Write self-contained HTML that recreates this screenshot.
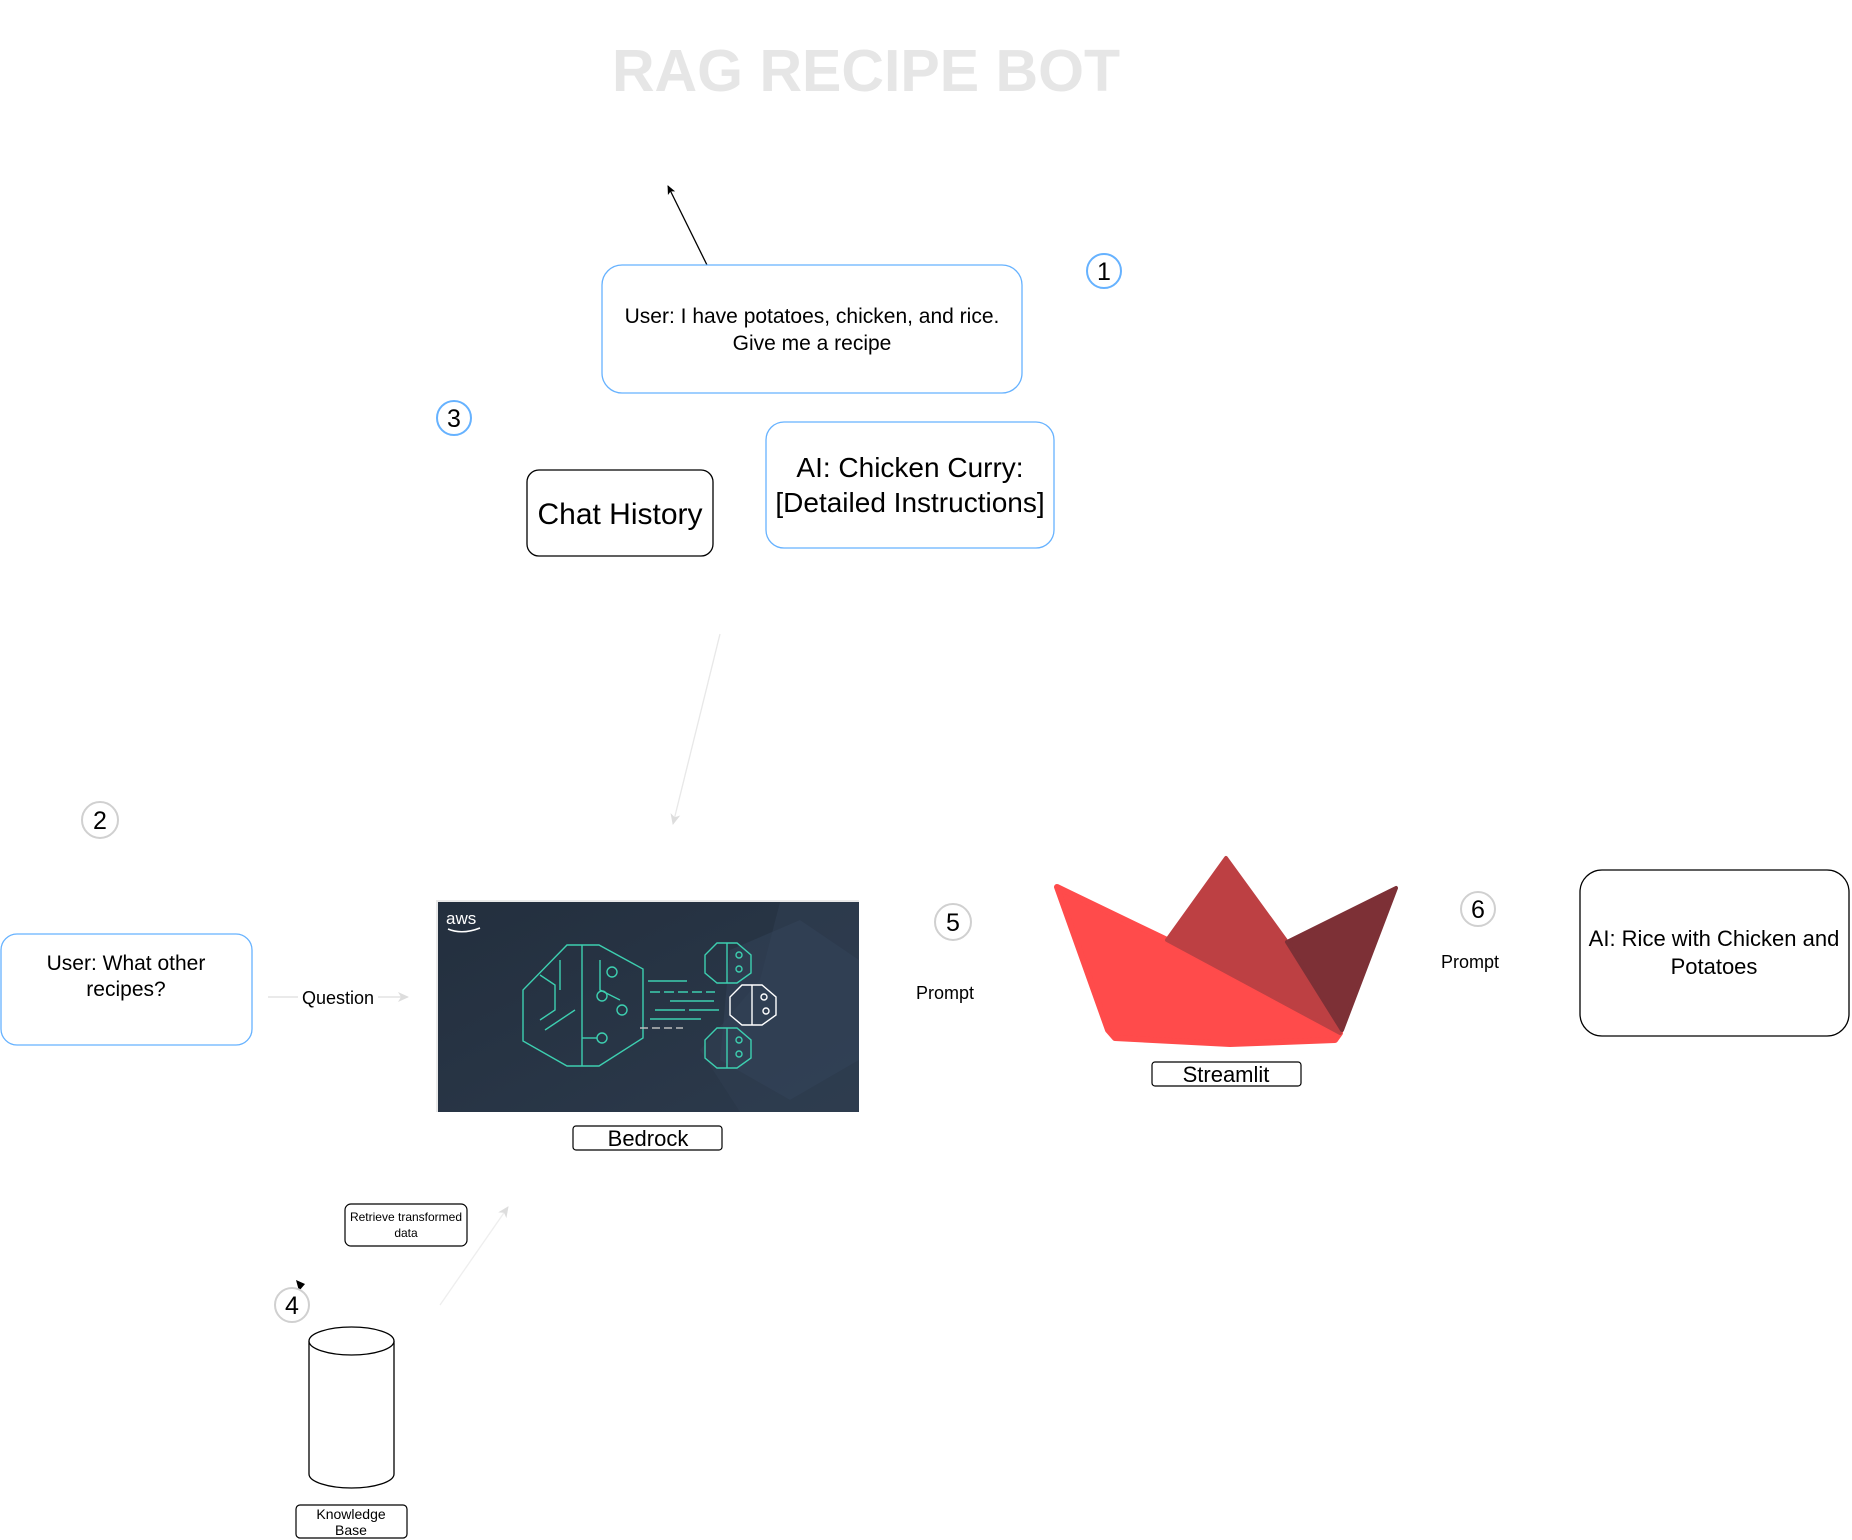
<!DOCTYPE html>
<html><head><meta charset="utf-8"><style>
html,body{margin:0;padding:0;background:#fff}
svg{display:block}
text{font-family:"Liberation Sans",Arial,sans-serif}
</style></head><body>
<svg width="1852" height="1540" viewBox="0 0 1852 1540" xmlns="http://www.w3.org/2000/svg">
<defs>
<marker id="ab" markerWidth="10" markerHeight="10" refX="8" refY="5" orient="auto" markerUnits="userSpaceOnUse"><path d="M0,1 L9,5 L0,9 L2,5 Z" fill="#000"/></marker>
<marker id="ag" markerWidth="12" markerHeight="12" refX="10" refY="6" orient="auto" markerUnits="userSpaceOnUse"><path d="M0,1 L11,6 L0,11 L3,6 Z" fill="#ddd"/></marker>
<linearGradient id="bg" x1="0" y1="0" x2="1" y2="1"><stop offset="0" stop-color="#232f3e"/><stop offset="1" stop-color="#2c3a4c"/></linearGradient>
</defs>
<rect width="1852" height="1540" fill="#fff"/>
<text x="866" y="91" text-anchor="middle" font-size="59" font-weight="bold" fill="#e6e6e6">RAG RECIPE BOT</text>

<line x1="707" y1="265" x2="668" y2="186" stroke="#000" stroke-width="1.3" marker-end="url(#ab)"/>

<rect x="602" y="265" width="420" height="128" rx="20" fill="#fff" stroke="#66b2ff" stroke-width="1.3"/>
<text x="812" y="323" text-anchor="middle" font-size="21">User: I have potatoes, chicken, and rice.</text>
<text x="812" y="350" text-anchor="middle" font-size="21">Give me a recipe</text>

<circle cx="1104" cy="271" r="17" fill="#fff" stroke="#66b2ff" stroke-width="2"/>
<text x="1104" y="280" text-anchor="middle" font-size="25">1</text>

<circle cx="454" cy="418" r="17" fill="#fff" stroke="#66b2ff" stroke-width="2"/>
<text x="454" y="427" text-anchor="middle" font-size="25">3</text>

<rect x="527" y="470" width="186" height="86" rx="12" fill="#fff" stroke="#000" stroke-width="1.3"/>
<text x="620" y="524" text-anchor="middle" font-size="30">Chat History</text>

<rect x="766" y="422" width="288" height="126" rx="18" fill="#fff" stroke="#66b2ff" stroke-width="1.3"/>
<text x="910" y="477" text-anchor="middle" font-size="28">AI: Chicken Curry:</text>
<text x="910" y="512" text-anchor="middle" font-size="28">[Detailed Instructions]</text>

<line x1="720" y1="634" x2="673" y2="824" stroke="#e8e8e8" stroke-width="1.3" marker-end="url(#ag)"/>

<circle cx="100" cy="820" r="18" fill="#fff" stroke="#d0d0d0" stroke-width="2"/>
<text x="100" y="829" text-anchor="middle" font-size="25">2</text>

<rect x="1" y="934" width="251" height="111" rx="16" fill="#fff" stroke="#66b2ff" stroke-width="1.3"/>
<text x="126" y="970" text-anchor="middle" font-size="21">User: What other</text>
<text x="126" y="996" text-anchor="middle" font-size="21">recipes?</text>

<line x1="268" y1="997" x2="408" y2="997" stroke="#ddd" stroke-width="1.3" marker-end="url(#ag)"/>
<rect x="298" y="985" width="80" height="24" fill="#fff"/>
<text x="338" y="1004" text-anchor="middle" font-size="18">Question</text>

<rect x="436" y="900" width="423" height="212" fill="#e9e9e9"/>
<rect x="438" y="902" width="421" height="210" fill="url(#bg)"/>
<polygon points="780,902 859,902 859,1112 740,1112 700,1050 760,980" fill="#2f3d50" opacity="0.7"/>
<polygon points="730,950 800,920 859,960 859,1060 790,1100 720,1060" fill="#34445a" opacity="0.5"/>
<text x="446" y="924" font-size="17" fill="#fff">aws</text>
<path d="M448,929 Q462,935 480,928" stroke="#fff" stroke-width="1.5" fill="none"/>
<g stroke="#3dcfb0" stroke-width="1.4" fill="none">
<polygon points="567,945 599,945 643,969 643,1038 599,1066 567,1066 523,1041 523,990"/>
<line x1="582" y1="945" x2="582" y2="1066"/>
<path d="M540,975 L555,985 L555,1010 L540,1020"/>
<path d="M560,960 L560,990"/><path d="M600,960 L600,990 L620,1000"/>
<circle cx="612" cy="972" r="5"/><circle cx="602" cy="996" r="5"/><circle cx="622" cy="1010" r="5"/><circle cx="602" cy="1038" r="5"/>
<path d="M545,1030 L575,1010"/><path d="M582,1038 L597,1038"/>
<g transform="translate(709,943)"><polygon points="8,0 28,0 42,12 42,30 28,40 8,40 -4,30 -4,12"/><line x1="18" y1="0" x2="18" y2="40"/><circle cx="30" cy="12" r="3"/><circle cx="30" cy="26" r="3"/></g>
<g transform="translate(709,1028)"><polygon points="8,0 28,0 42,12 42,30 28,40 8,40 -4,30 -4,12"/><line x1="18" y1="0" x2="18" y2="40"/><circle cx="30" cy="12" r="3"/><circle cx="30" cy="26" r="3"/></g>
<line x1="648" y1="981" x2="687" y2="981"/>
<line x1="650" y1="992" x2="715" y2="992" stroke-dasharray="10 4"/>
<line x1="670" y1="1001" x2="714" y2="1001"/>
<line x1="655" y1="1010" x2="720" y2="1010" stroke-dasharray="30 4"/>
<line x1="650" y1="1019" x2="701" y2="1019"/>
</g>
<g stroke="#fff" stroke-width="1.4" fill="none" transform="translate(734,985)"><polygon points="8,0 28,0 42,12 42,30 28,40 8,40 -4,30 -4,12"/><line x1="18" y1="0" x2="18" y2="40"/><circle cx="30" cy="12" r="3"/><circle cx="32" cy="26" r="3"/></g>
<line x1="640" y1="1028" x2="683" y2="1028" stroke="#bbb" stroke-width="1.4" stroke-dasharray="8 4"/>

<rect x="573" y="1126" width="149" height="24" rx="3" fill="#fff" stroke="#000" stroke-width="1.2"/>
<text x="648" y="1146" text-anchor="middle" font-size="22">Bedrock</text>

<circle cx="953" cy="922" r="18" fill="#fff" stroke="#d0d0d0" stroke-width="2"/>
<text x="953" y="931" text-anchor="middle" font-size="25">5</text>
<text x="945" y="999" text-anchor="middle" font-size="18">Prompt</text>

<g stroke-linejoin="round">
<polygon points="1057,887 1167,940 1340,1033 1335,1040 1230,1044 1115,1038 1108,1030" fill="#ff4b4b" stroke="#ff4b4b" stroke-width="6"/>
<polygon points="1167,940 1226,858 1287,942 1340,1033" fill="#bd4043" stroke="#bd4043" stroke-width="4"/>
<polygon points="1287,942 1396,888 1342,1030" fill="#7d3036" stroke="#7d3036" stroke-width="4"/>
</g>
<rect x="1152" y="1062" width="149" height="24" rx="3" fill="#fff" stroke="#000" stroke-width="1.2"/>
<text x="1226" y="1082" text-anchor="middle" font-size="22">Streamlit</text>

<circle cx="1478" cy="909" r="17" fill="#fff" stroke="#d0d0d0" stroke-width="2"/>
<text x="1478" y="918" text-anchor="middle" font-size="25">6</text>
<text x="1470" y="968" text-anchor="middle" font-size="18">Prompt</text>

<rect x="1580" y="870" width="269" height="166" rx="22" fill="#fff" stroke="#000" stroke-width="1.3"/>
<text x="1714" y="946" text-anchor="middle" font-size="22">AI: Rice with Chicken and</text>
<text x="1714" y="974" text-anchor="middle" font-size="22">Potatoes</text>

<rect x="345" y="1204" width="122" height="42" rx="6" fill="#fff" stroke="#000" stroke-width="1.2"/>
<text x="406" y="1221" text-anchor="middle" font-size="12">Retrieve transformed</text>
<text x="406" y="1237" text-anchor="middle" font-size="12">data</text>
<line x1="440" y1="1305" x2="508" y2="1207" stroke="#eee" stroke-width="1.3" marker-end="url(#ag)"/>
<path d="M296,1280 L305,1284 L299,1291 Z" fill="#000"/>

<circle cx="292" cy="1305" r="17" fill="#fff" stroke="#d0d0d0" stroke-width="2"/>
<text x="292" y="1314" text-anchor="middle" font-size="25">4</text>

<path d="M309,1341 L309,1474 A42.5,14 0 0 0 394,1474 L394,1341" fill="#fff" stroke="#000" stroke-width="1.3"/>
<ellipse cx="351.5" cy="1341" rx="42.5" ry="14" fill="#fff" stroke="#000" stroke-width="1.3"/>

<rect x="296" y="1505" width="111" height="33" rx="4" fill="#fff" stroke="#000" stroke-width="1.2"/>
<text x="351" y="1519" text-anchor="middle" font-size="14">Knowledge</text>
<text x="351" y="1535" text-anchor="middle" font-size="14">Base</text>
</svg>
</body></html>
